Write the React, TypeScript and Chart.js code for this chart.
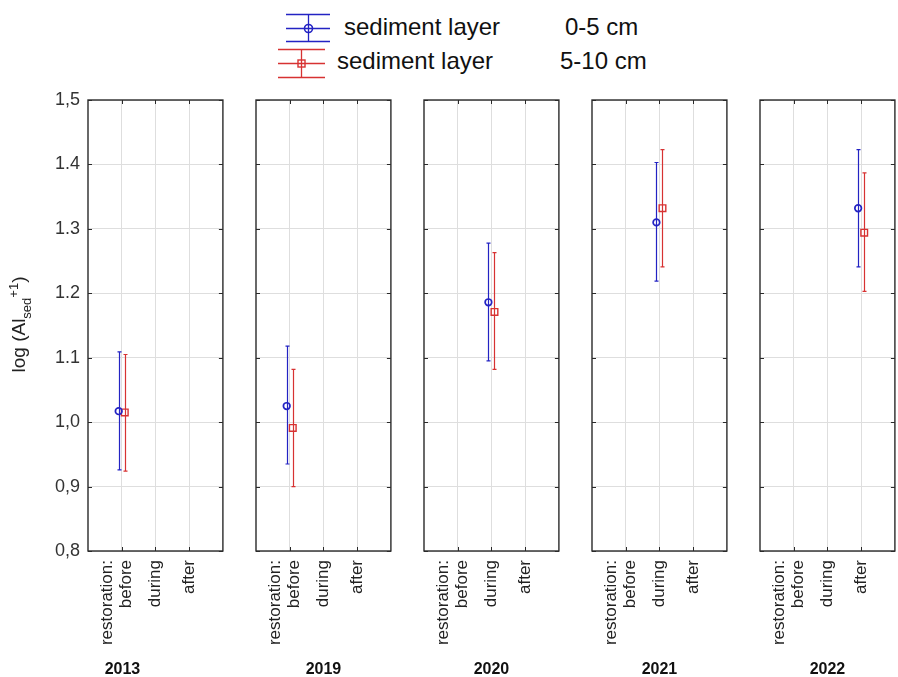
import React, { useEffect, useRef } from "react";
import { Chart, registerables } from "chart.js";

Chart.register(...registerables);

// ---------------- data ----------------
const years = ["2013", "2019", "2020", "2021", "2022"];
const phaseValues = [1, 2, 3];
const phaseLabels = [["restoration:", "before"], ["during"], ["after"]];
const yearPhase = [1, 1, 2, 2, 3];

const yTickValues = [0.8, 0.9, 1.0, 1.1, 1.2, 1.3, 1.4, 1.5];
const yTickLabels = ["0,8", "0,9", "1,0", "1.1", "1.2", "1.3", "1.4", "1,5"];

const seriesNames = ["sediment layer", "sediment layer"];
const seriesDepths = ["0-5 cm", "5-10 cm"];

const layer05Mean = [1.017, 1.025, 1.186, 1.31, 1.332];
const layer05Low = [0.926, 0.935, 1.095, 1.219, 1.241];
const layer05High = [1.109, 1.118, 1.278, 1.403, 1.423];

const layer510Mean = [1.015, 0.991, 1.171, 1.332, 1.294];
const layer510Low = [0.924, 0.9, 1.082, 1.241, 1.203];
const layer510High = [1.105, 1.082, 1.263, 1.423, 1.387];

// ---------------- layout / style ----------------
const W = 898;
const H = 677;
const PANEL_LEFT = [88, 256, 424, 592, 760];
const PANEL_W = 138;
const AREA_TOP = 100;
const AREA_BOTTOM = 551;
const YEAR_SHIFT = [-33, 0, 0, 0, 0];
const SERIES_SHIFT = [-0.09, 0.09];
const BLUE = "rgb(35,35,195)";
const RED = "rgb(215,50,50)";
const GRID = "rgb(222,222,222)";
const FRAME = "#2a2a2a";
const FONT = '"Liberation Sans", Arial, sans-serif';

function makePlugin(index: number) {
  return {
    id: "panelDeco" + index,
    beforeDatasetsDraw(chart: any) {
      const ctx = chart.ctx;
      const xs = chart.scales.x;
      const ys = chart.scales.y;
      chart.data.datasets.forEach((ds: any) => {
        ds.data.forEach((pt: any) => {
          const x = Math.round(xs.getPixelForValue(pt.x)) + 0.5;
          const yl = ys.getPixelForValue(pt.low);
          const yh = ys.getPixelForValue(pt.high);
          ctx.save();
          ctx.strokeStyle = ds.borderColor;
          ctx.lineWidth = 1.2;
          ctx.beginPath();
          ctx.moveTo(x, yh);
          ctx.lineTo(x, yl);
          ctx.moveTo(x - 2, yh);
          ctx.lineTo(x + 2, yh);
          ctx.moveTo(x - 2, yl);
          ctx.lineTo(x + 2, yl);
          ctx.stroke();
          ctx.restore();
        });
      });
    },
    afterDraw(chart: any) {
      const ctx = chart.ctx;
      const a = chart.chartArea;
      const xs = chart.scales.x;
      const ys = chart.scales.y;
      ctx.save();
      // frame
      ctx.strokeStyle = FRAME;
      ctx.lineWidth = 1.4;
      ctx.strokeRect(a.left, a.top, a.right - a.left, a.bottom - a.top);
      // inward ticks
      ctx.lineWidth = 1;
      ctx.beginPath();
      phaseValues.forEach((v) => {
        const px = Math.round(xs.getPixelForValue(v)) + 0.5;
        ctx.moveTo(px, a.top);
        ctx.lineTo(px, a.top + 4);
        ctx.moveTo(px, a.bottom);
        ctx.lineTo(px, a.bottom - 4);
      });
      yTickValues.forEach((v) => {
        const py = Math.round(ys.getPixelForValue(v)) + 0.5;
        ctx.moveTo(a.left, py);
        ctx.lineTo(a.left + 4, py);
        ctx.moveTo(a.right, py);
        ctx.lineTo(a.right - 4, py);
      });
      ctx.stroke();

      // x tick labels (rotated)
      ctx.fillStyle = "#222";
      ctx.font = "17px " + FONT;
      ctx.textAlign = "right";
      ctx.textBaseline = "middle";
      phaseValues.forEach((v, k) => {
        const px = xs.getPixelForValue(v);
        const lines = phaseLabels[k];
        const n = lines.length;
        lines.forEach((line, j) => {
          const off = (j - (n - 1) / 2) * 19 + (n > 1 ? -4.5 : 0);
          ctx.save();
          ctx.translate(px + off, a.bottom + 9);
          ctx.rotate(-Math.PI / 2);
          ctx.fillText(line, 0, 0);
          ctx.restore();
        });
      });

      // year label
      ctx.font = "bold 16px " + FONT;
      ctx.fillStyle = "#111";
      ctx.textAlign = "center";
      ctx.textBaseline = "middle";
      ctx.fillText(years[index], (a.left + a.right) / 2 + YEAR_SHIFT[index], 670);

      // y axis title (first panel only)
      if (index === 0) {
        ctx.save();
        ctx.translate(25, (a.top + a.bottom) / 2 - 1);
        ctx.rotate(-Math.PI / 2);
        ctx.fillStyle = "#222";
        ctx.textBaseline = "alphabetic";
        ctx.textAlign = "left";
        const big = "19px " + FONT;
        const small = "13px " + FONT;
        const parts = [
          { t: "log (Al", f: big, dy: 0 },
          { t: "sed", f: small, dy: 6 },
          { t: "+1", f: small, dy: -7 },
          { t: ")", f: big, dy: 0 },
        ];
        let total = 0;
        parts.forEach((p) => {
          ctx.font = p.f;
          total += ctx.measureText(p.t).width;
        });
        let x = -total / 2;
        parts.forEach((p) => {
          ctx.font = p.f;
          ctx.fillText(p.t, x, p.dy);
          x += ctx.measureText(p.t).width;
        });
        ctx.restore();
      }
      ctx.restore();
    },
  };
}

function Panel({ index }: { index: number }) {
  const ref = useRef<HTMLCanvasElement | null>(null);
  const padL = index === 0 ? PANEL_LEFT[0] : 24;
  const padR = 3;
  const width = padL + PANEL_W + padR;

  useEffect(() => {
    if (!ref.current) return;
    const chart = new Chart(ref.current, {
      type: "scatter",
      data: {
        datasets: [
          {
            label: seriesNames[0] + " " + seriesDepths[0],
            data: [
              {
                x: yearPhase[index] + SERIES_SHIFT[0],
                y: layer05Mean[index],
                low: layer05Low[index],
                high: layer05High[index],
              } as any,
            ],
            pointStyle: "circle",
            pointRadius: 3.3,
            pointBorderWidth: 1.7,
            borderColor: BLUE,
            backgroundColor: "rgba(0,0,0,0)",
          },
          {
            label: seriesNames[1] + " " + seriesDepths[1],
            data: [
              {
                x: yearPhase[index] + SERIES_SHIFT[1],
                y: layer510Mean[index],
                low: layer510Low[index],
                high: layer510High[index],
              } as any,
            ],
            pointStyle: "rect",
            pointRadius: 4.7,
            pointBorderWidth: 1.4,
            borderColor: RED,
            backgroundColor: "rgba(0,0,0,0)",
          },
        ],
      },
      options: {
        animation: false,
        responsive: false,
        devicePixelRatio: 1,
        events: [],
        layout: { padding: { top: AREA_TOP, right: padR, left: 0, bottom: 0 } },
        plugins: { legend: { display: false }, tooltip: { enabled: false } },
        scales: {
          x: {
            type: "linear",
            min: 0,
            max: 4,
            afterBuildTicks: (s: any) => {
              s.ticks = phaseValues.map((v) => ({ value: v }));
            },
            afterFit: (s: any) => {
              s.height = H - AREA_BOTTOM;
            },
            ticks: { display: false },
            grid: { color: GRID, drawTicks: false, lineWidth: 1 },
            border: { display: false },
          },
          y: {
            type: "linear",
            min: 0.8,
            max: 1.5,
            afterBuildTicks: (s: any) => {
              s.ticks = yTickValues.map((v) => ({ value: v }));
            },
            afterFit: (s: any) => {
              s.width = padL;
            },
            ticks: {
              display: index === 0,
              callback: (_v: any, i: number) => yTickLabels[i],
              font: { size: 18, family: FONT },
              color: "#333",
              padding: 8,
            },
            grid: { color: GRID, drawTicks: false, lineWidth: 1 },
            border: { display: false },
          },
        },
      } as any,
      plugins: [makePlugin(index)],
    });
    return () => chart.destroy();
  }, [index]);

  return (
    <canvas
      ref={ref}
      width={width}
      height={H}
      style={{ position: "absolute", left: PANEL_LEFT[index] - padL, top: 0, width, height: H }}
    />
  );
}

function Legend() {
  const tf = { fontFamily: FONT, fontSize: 24, fill: "#111" } as any;
  return (
    <svg width={W} height={90} style={{ position: "absolute", left: 0, top: 0 }}>
      <g stroke={BLUE} strokeWidth={1.3} fill="none">
        <line x1={286} y1={14.5} x2={330} y2={14.5} />
        <line x1={286} y1={28.5} x2={330} y2={28.5} />
        <line x1={286} y1={41.5} x2={330} y2={41.5} />
        <line x1={308.5} y1={14.5} x2={308.5} y2={41.5} />
        <circle cx={308.5} cy={28.5} r={4} strokeWidth={1.6} />
      </g>
      <text x={344} y={35} {...tf}>{seriesNames[0]}</text>
      <text x={565} y={35} {...tf}>{seriesDepths[0]}</text>
      <g stroke={RED} strokeWidth={1.3} fill="none">
        <line x1={278} y1={49.5} x2={325} y2={49.5} />
        <line x1={278} y1={63.5} x2={325} y2={63.5} />
        <line x1={278} y1={77.5} x2={325} y2={77.5} />
        <line x1={301.5} y1={49.5} x2={301.5} y2={77.5} />
        <rect x={298} y={60} width={7} height={7} strokeWidth={1.4} />
      </g>
      <text x={337} y={69} {...tf}>{seriesNames[1]}</text>
      <text x={560} y={69} {...tf}>{seriesDepths[1]}</text>
    </svg>
  );
}

export default function App() {
  return (
    <div
      style={{
        position: "fixed",
        left: 0,
        top: 0,
        width: W,
        height: H,
        overflow: "hidden",
        background: "#fff",
      }}
    >
      <Legend />
      {years.map((_, i) => (
        <Panel key={i} index={i} />
      ))}
    </div>
  );
}
